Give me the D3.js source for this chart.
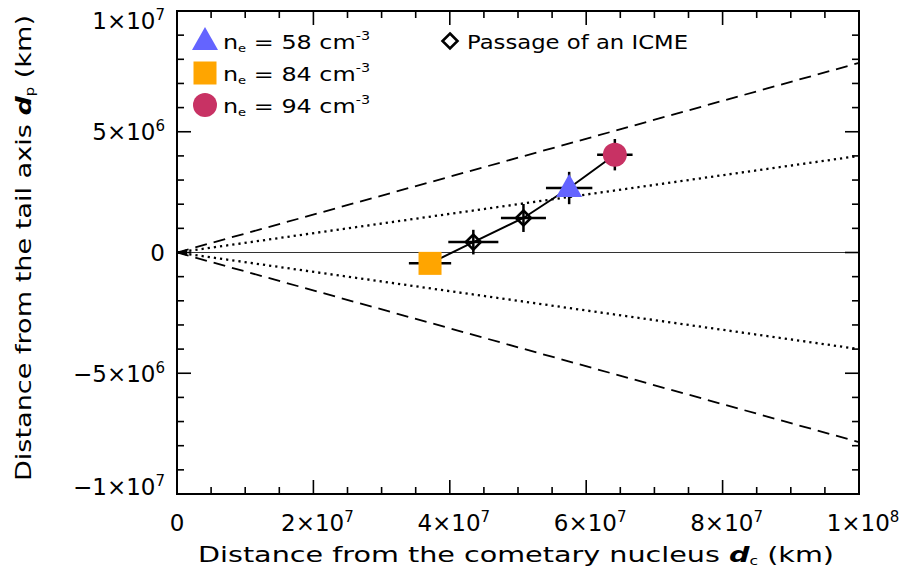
<!DOCTYPE html>
<html>
<head>
<meta charset="utf-8">
<script src="https://cdn.jsdelivr.net/npm/d3@7"></script>
<style>
  html, body { margin: 0; padding: 0; background: #fff; }
  svg { display: block; }
  text { font-family: "DejaVu Sans", sans-serif; fill: #000; }
</style>
</head>
<body>
<svg id="chart" width="905" height="584"></svg>
<script>
// ---------------- data ----------------
const pointNames = ["ne84", "icme1", "icme2", "ne58", "ne94"];
const dcValues   = [3.71e7, 4.345e7, 5.08e7, 5.75e7, 6.42e7];   // km, distance from nucleus
const dpValues   = [-0.45e6, 0.43e6, 1.43e6, 2.67e6, 4.05e6];  // km, distance from tail axis
const dcErrors   = [3.1e6, 3.67e6, 3.3e6, 3.4e6, 2.6e6];
const dpErrors   = [0.35e6, 0.51e6, 0.58e6, 0.67e6, 0.65e6];
const pointSymbols = ["square", "diamond", "diamond", "triangle", "circle"];
const pointColors  = ["#FFA500", "none", "none", "#6464FF", "#C83264"];

const guideEndValues = [7.85e6, 4.0e6, -4.0e6, -7.85e6];     // dp at dc = 1e8
const guideStyles    = ["dashed", "dotted", "dotted", "dashed"];

const xTickValues = [0, 2e7, 4e7, 6e7, 8e7, 1e8];
const xTickBase   = ["0", "2×10", "4×10", "6×10", "8×10", "1×10"];
const xTickExp    = ["", "7", "7", "7", "7", "8"];
const yTickValues = [-1e7, -5e6, 0, 5e6, 1e7];
const yTickBase   = ["−1×10", "−5×10", "0", "5×10", "1×10"];
const yTickExp    = ["7", "6", "", "6", "7"];

const legendDensities = ["58", "84", "94"];
const legendSymbols   = ["triangle", "square", "circle"];
const legendColors    = ["#6464FF", "#FFA500", "#C83264"];

// ---------------- layout ----------------
const svg = d3.select("#chart");
const L = 177, R = 859, T = 11, B = 494;
const x = d3.scaleLinear().domain([0, 1e8]).range([L, R]);
const y = d3.scaleLinear().domain([-1e7, 1e7]).range([B, T]);

// guide lines
const plot = svg.append("g");
guideEndValues.forEach((v, i) => {
  const dashed = guideStyles[i] === "dashed";
  plot.append("line")
    .attr("x1", x(0)).attr("y1", y(0))
    .attr("x2", x(1e8)).attr("y2", y(v))
    .attr("stroke", "#000").attr("stroke-width", dashed ? 1.8 : 2.3)
    .attr("stroke-dasharray", dashed ? "12,7" : "2.2,4");
});
// zero line
plot.append("line")
  .attr("x1", x(0)).attr("x2", x(1e8)).attr("y1", y(0)).attr("y2", y(0))
  .attr("stroke", "#333").attr("stroke-width", 1.2);
// small arrow at origin
plot.append("path")
  .attr("d", `M${x(0)+1},${y(0)} l9,-3.5 l0,7 Z`)
  .attr("fill", "#000");

// connecting line
const idx = d3.range(dcValues.length);
plot.append("path")
  .datum(idx)
  .attr("d", d3.line().x(i => x(dcValues[i])).y(i => y(dpValues[i])))
  .attr("fill", "none").attr("stroke", "#000").attr("stroke-width", 2);

// error bars
idx.forEach(i => {
  plot.append("line")
    .attr("x1", x(dcValues[i] - dcErrors[i])).attr("x2", x(dcValues[i] + dcErrors[i]))
    .attr("y1", y(dpValues[i])).attr("y2", y(dpValues[i]))
    .attr("stroke", "#000").attr("stroke-width", 2.5);
  plot.append("line")
    .attr("x1", x(dcValues[i])).attr("x2", x(dcValues[i]))
    .attr("y1", y(dpValues[i] - dpErrors[i])).attr("y2", y(dpValues[i] + dpErrors[i]))
    .attr("stroke", "#000").attr("stroke-width", 2.5);
});

function drawSymbol(g, type, cx, cy, color) {
  if (type === "square") {
    g.append("rect").attr("x", cx - 11.5).attr("y", cy - 11.5)
      .attr("width", 23).attr("height", 23).attr("fill", color);
  } else if (type === "triangle") {
    g.append("path").attr("d", `M${cx},${cy - 14} L${cx + 13},${cy + 9} L${cx - 13},${cy + 9} Z`)
      .attr("fill", color);
  } else if (type === "circle") {
    g.append("circle").attr("cx", cx).attr("cy", cy).attr("r", 12).attr("fill", color);
  } else if (type === "diamond") {
    g.append("path").attr("d", `M${cx},${cy - 7.5} L${cx + 7.5},${cy} L${cx},${cy + 7.5} L${cx - 7.5},${cy} Z`)
      .attr("fill", "none").attr("stroke", "#000").attr("stroke-width", 2.6);
  }
}
idx.forEach(i => drawSymbol(plot, pointSymbols[i], x(dcValues[i]), y(dpValues[i]), pointColors[i]));

// ---------------- frame & ticks ----------------
const frame = svg.append("g");
frame.append("rect").attr("x", L).attr("y", T).attr("width", R - L).attr("height", B - T)
  .attr("fill", "none").attr("stroke", "#000").attr("stroke-width", 2);

const xMinor = d3.range(0, 1e8 + 1, 5e6);
const yMinor = d3.range(-1e7, 1e7 + 1, 1e6);
xMinor.forEach(v => {
  const major = xTickValues.some(t => Math.abs(t - v) < 1);
  const len = major ? 14 : 7;
  frame.append("line").attr("x1", x(v)).attr("x2", x(v)).attr("y1", B).attr("y2", B - len)
    .attr("stroke", "#000").attr("stroke-width", 1.6);
  frame.append("line").attr("x1", x(v)).attr("x2", x(v)).attr("y1", T).attr("y2", T + len)
    .attr("stroke", "#000").attr("stroke-width", 1.6);
});
yMinor.forEach(v => {
  const major = yTickValues.some(t => Math.abs(t - v) < 1);
  const len = major ? 14 : 7;
  frame.append("line").attr("x1", L).attr("x2", L + len).attr("y1", y(v)).attr("y2", y(v))
    .attr("stroke", "#000").attr("stroke-width", 1.6);
  frame.append("line").attr("x1", R).attr("x2", R - len).attr("y1", y(v)).attr("y2", y(v))
    .attr("stroke", "#000").attr("stroke-width", 1.6);
});

// x tick labels
xTickValues.forEach((v, i) => {
  const t = svg.append("text").attr("x", x(v) + (xTickExp[i] ? 4 : 0)).attr("y", 531)
    .attr("text-anchor", "middle").attr("font-size", 23);
  t.append("tspan").text(xTickBase[i]);
  if (xTickExp[i]) t.append("tspan").attr("dy", -9).attr("font-size", 15).text(xTickExp[i]);
});
// y tick labels
yTickValues.forEach((v, i) => {
  const cy = Math.min(Math.max(y(v), 20), 486);
  const t = svg.append("text").attr("x", 165).attr("y", cy + 8.5)
    .attr("text-anchor", "end").attr("font-size", 23);
  t.append("tspan").text(yTickBase[i]);
  if (yTickExp[i]) t.append("tspan").attr("dy", -9).attr("font-size", 15).text(yTickExp[i]);
});

// axis titles
const xt = svg.append("text").attr("x", 198).attr("y", 562).attr("font-size", 22)
  .attr("textLength", 636).attr("lengthAdjust", "spacingAndGlyphs");
xt.append("tspan").text("Distance from the cometary nucleus ");
xt.append("tspan").attr("font-style", "italic").attr("font-weight", "bold").text("d");
xt.append("tspan").attr("font-size", 12).attr("dy", 3).text("c");
xt.append("tspan").attr("dy", -3).text(" (km)");

const yt = svg.append("text").attr("transform", "translate(31,481) rotate(-90)")
  .attr("font-size", 22).attr("textLength", 466).attr("lengthAdjust", "spacingAndGlyphs");
yt.append("tspan").text("Distance from the tail axis ");
yt.append("tspan").attr("font-style", "italic").attr("font-weight", "bold").text("d");
yt.append("tspan").attr("font-size", 12).attr("dy", 3).text("p");
yt.append("tspan").attr("dy", -3).text(" (km)");

// ---------------- legend ----------------
const lg = svg.append("g");
const legendRows = [41, 73, 105];
legendDensities.forEach((d, i) => {
  drawSymbol(lg, legendSymbols[i], 205, legendRows[i], legendColors[i]);
  const t = lg.append("text").attr("x", 223).attr("y", legendRows[i] + 8).attr("font-size", 20)
    .attr("textLength", 147).attr("lengthAdjust", "spacingAndGlyphs");
  t.append("tspan").text("n");
  t.append("tspan").attr("font-size", 11).attr("dy", 3).text("e");
  t.append("tspan").attr("dy", -3).text(" = " + d + " cm");
  t.append("tspan").attr("font-size", 12).attr("dy", -9).text("-3");
});
drawSymbol(lg, "diamond", 450, 41, "none");
lg.append("text").attr("x", 467).attr("y", 49).attr("font-size", 20)
  .attr("textLength", 221).attr("lengthAdjust", "spacingAndGlyphs")
  .text("Passage of an ICME");
</script>
</body>
</html>
